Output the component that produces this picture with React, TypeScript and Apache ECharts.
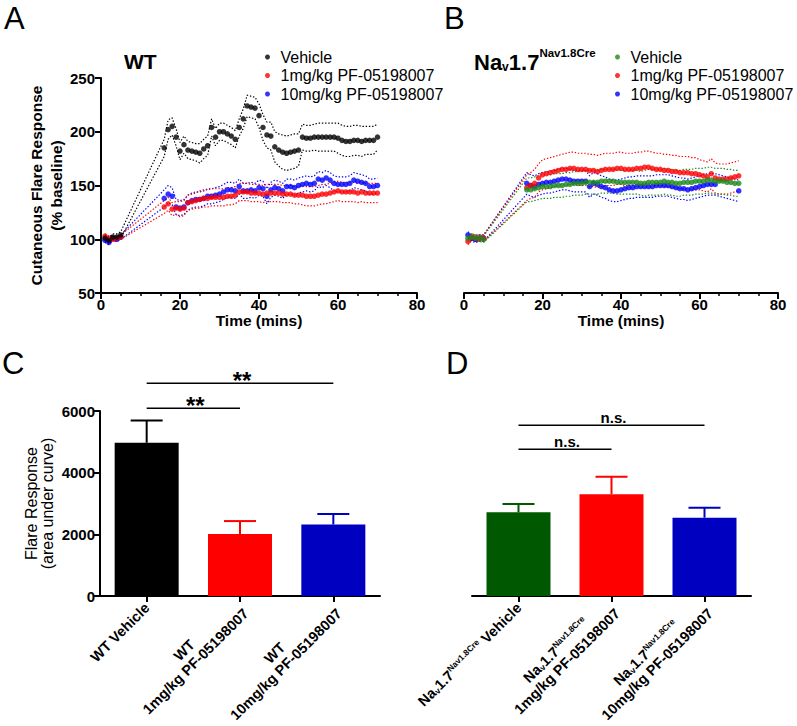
import React, { useEffect, useRef } from 'react';
import * as echarts from 'echarts';

const FONT = "'Liberation Sans', Arial, Helvetica, sans-serif";

// Time points (minutes)
const TIME = [1, 2, 3, 4, 5, 16, 17, 18, 19, 20, 21, 22, 23, 24, 25, 26, 27, 28, 29, 30, 31, 32, 33, 34, 35, 36, 37, 38, 39, 40, 41, 42, 43, 44, 45, 46, 47, 48, 49, 50, 51, 52, 53, 54, 55, 56, 57, 58, 59, 60, 61, 62, 63, 64, 65, 66, 67, 68, 69, 70];

const LEGEND_LABELS = ['Vehicle', '1mg/kg PF-05198007', '10mg/kg PF-05198007'];

// Panel A (WT)
const A_VEH = [101, 99, 102, 102, 104,
  185, 202, 205, 195, 182, 188, 183, 182, 181, 180,
  184, 187, 204, 195, 200, 200, 198, 196, 193, 204,
  212, 224, 223, 222, 215, 204, 197, 196, 186, 183,
  181, 180, 181, 182, 183, 195, 194, 194, 195, 195,
  195, 195, 195, 195, 194, 192, 191, 191, 192, 192,
  191, 192, 192, 192, 195];
const A_VEH_SEM = [3, 3, 3, 3, 3,
  8, 9, 8, 8, 8, 8, 8, 8, 8, 9,
  9, 9, 8, 8, 8, 8, 8, 8, 8, 8,
  9, 10, 10, 10, 11, 12, 12, 13, 14, 15,
  16, 16, 16, 16, 15, 12, 12, 12, 12, 13,
  13, 13, 13, 13, 14, 14, 14, 14, 14, 14,
  14, 13, 13, 13, 12];
const A_1MG = [103, 101, 100, 101, 102,
  130, 133, 128, 129, 128, 129, 134, 135, 136, 137,
  138, 138, 139, 139, 139, 139, 140, 140, 141, 144,
  144, 144, 143, 143, 143, 142, 143, 143, 143, 143,
  142, 142, 142, 141, 141, 141, 140, 140, 140, 141,
  142, 142, 143, 144, 145, 144, 144, 144, 144, 143,
  144, 143, 143, 143, 143];
const A_1MG_SEM = [2, 2, 2, 2, 2,
  6, 6, 6, 6, 7, 7, 7, 7, 7, 8,
  8, 8, 8, 8, 8, 8, 8, 8, 8, 8,
  8, 8, 8, 8, 8, 8, 8, 8, 8, 8,
  8, 8, 8, 8, 8, 9, 9, 9, 9, 9,
  9, 9, 9, 9, 9, 9, 9, 9, 9, 9,
  9, 9, 9, 9, 9];
const A_10MG = [99, 97, 101, 100, 102,
  138, 142, 140, 130, 129, 130, 134, 136, 137, 137,
  138, 140, 140, 141, 142, 144, 146, 146, 145, 149,
  145, 145, 146, 145, 148, 147, 140, 146, 148, 147,
  145, 149, 149, 148, 150, 151, 152, 151, 152, 156,
  155, 157, 155, 152, 151, 151, 151, 152, 155, 154,
  153, 152, 149, 149, 150];
const A_10MG_SEM = [2, 2, 2, 2, 2,
  8, 8, 8, 7, 7, 7, 7, 7, 7, 7,
  7, 7, 7, 7, 7, 7, 7, 7, 7, 7,
  7, 7, 7, 7, 7, 7, 7, 7, 7, 7,
  7, 7, 7, 7, 7, 7, 7, 7, 7, 7,
  7, 7, 7, 7, 7, 7, 7, 7, 7, 7,
  7, 7, 7, 7, 7];

// Panel B (Nav1.7 Nav1.8Cre)
const B_VEH = [101, 102, 101, 101, 100,
  146, 146, 147, 148, 149, 149, 149, 150, 150, 150,
  151, 151, 152, 152, 152, 153, 153, 153, 153, 154,
  154, 154, 154, 153, 153, 153, 153, 153, 153, 152,
  152, 153, 153, 153, 153, 154, 153, 153, 152, 152,
  153, 153, 153, 154, 154, 154, 155, 155, 154, 154,
  154, 153, 153, 152, 152];
const B_VEH_SEM = [3, 3, 3, 3, 3,
  11, 11, 11, 11, 11, 11, 11, 11, 11, 11,
  11, 11, 11, 11, 11, 11, 11, 11, 11, 11,
  11, 11, 11, 11, 11, 11, 11, 11, 11, 11,
  12, 12, 12, 12, 12, 12, 12, 12, 12, 12,
  12, 12, 12, 12, 12, 12, 12, 12, 12, 12,
  12, 12, 12, 12, 12];
const B_1MG = [98, 102, 101, 101, 101,
  148, 150, 152, 157, 160, 161, 162, 163, 164, 165,
  165, 166, 166, 165, 165, 165, 164, 164, 163, 164,
  165, 165, 165, 166, 166, 165, 165, 165, 166, 166,
  167, 167, 166, 165, 165, 164, 164, 163, 163, 162,
  162, 162, 161, 161, 160, 159, 158, 161, 157, 156,
  156, 156, 157, 158, 159];
const B_1MG_SEM = [3, 3, 3, 3, 3,
  12, 12, 13, 13, 14, 14, 14, 14, 14, 14,
  15, 15, 15, 15, 15, 15, 15, 15, 15, 15,
  15, 15, 15, 15, 15, 15, 15, 15, 15, 15,
  15, 15, 15, 15, 15, 15, 15, 15, 15, 15,
  15, 15, 15, 15, 14, 14, 14, 14, 14, 14,
  14, 14, 14, 14, 14];
const B_10MG = [104, 101, 100, 101, 101,
  152, 150, 149, 151, 152, 153, 153, 154, 155, 156,
  156, 155, 154, 154, 154, 154, 149, 152, 151, 149,
  148, 146, 145, 145, 146, 147, 148, 148, 149, 149,
  149, 149, 149, 150, 150, 150, 150, 149, 148, 147,
  147, 146, 147, 148, 149, 150, 151, 151, 151, null,
  null, null, null, null, 145];
const B_10MG_SEM = [3, 3, 3, 3, 3,
  10, 10, 10, 10, 10, 10, 10, 10, 10, 10,
  10, 10, 10, 10, 10, 10, 10, 10, 10, 10,
  10, 10, 10, 10, 10, 10, 10, 10, 10, 10,
  10, 10, 10, 10, 10, 10, 10, 10, 10, 10,
  10, 10, 10, 10, 10, 10, 10, 10, 10, 10,
  10, 10, 10, 10, 10];

// Panel C (WT AUC)
const C_CATS = ['WT Vehicle', 'WT\n1mg/kg PF-05198007', 'WT\n10mg/kg PF-05198007'];
const C_MEAN = [4970, 2010, 2320];
const C_SEM = [720, 420, 340];
const C_SIG = [[0, 1, 6090], [0, 2, 6900]];
const C_SIG_TEXT = ['**', '**'];

// Panel D (Nav1.7 Nav1.8Cre AUC)
const D_DOSE = ['Vehicle', '1mg/kg PF-05198007', '10mg/kg PF-05198007'];
const D_CATS = D_DOSE.map((d, i) => 'Nav1.7Nav1.8Cre' + (i === 0 ? ' ' : '\n') + d);
const D_MEAN = [2715, 3300, 2540];
const D_SEM = [270, 570, 325];
const D_SIG = [[0, 1, 4760], [0, 2, 5540]];
const D_SIG_TEXT = ['n.s.', 'n.s.'];

const A_COLORS = ['#000000', '#ff0000', '#0000ff'];
const B_COLORS = ['#1a8a1a', '#ff0000', '#0000ff'];
const C_COLORS = ['#000000', '#ff0000', '#0000c0'];
const D_COLORS = ['#005800', '#ff0000', '#0000c0'];

const txt = { color: '#000', fontFamily: FONT };

function band(name: string, mean: (number | null)[], sem: number[], sign: number, color: string, ax: number) {
  return {
    type: 'line', name, xAxisIndex: ax, yAxisIndex: ax, symbol: 'none', silent: true,
    connectNulls: true, z: 1,
    lineStyle: { color, width: 1.2, type: [1.4, 1.8] },
    data: TIME.map((t, i) => [t, mean[i] == null ? null : (mean[i] as number) + sign * sem[i]]),
  };
}

function dots(name: string, mean: (number | null)[], color: string, ax: number) {
  return {
    type: 'scatter', name, xAxisIndex: ax, yAxisIndex: ax, symbol: 'circle', symbolSize: 5.5, z: 3,
    itemStyle: { color },
    data: TIME.map((t, i) => [t, mean[i]]).filter((d) => d[1] != null),
  };
}

function group(prefix: string, means: any[], sems: number[][], colors: string[], ax: number) {
  const out: any[] = [];
  const order = [2, 1, 0];
  order.forEach((k) => {
    const name = prefix + LEGEND_LABELS[k];
    out.push(band(name + ' upper', means[k], sems[k], 1, colors[k], ax));
    out.push(band(name + ' lower', means[k], sems[k], -1, colors[k], ax));
  });
  order.forEach((k) => out.push(dots(prefix + LEGEND_LABELS[k], means[k], colors[k], ax)));
  return out;
}

function errRender(colors: string[]) {
  return (params: any, api: any) => {
    const i = api.value(0);
    const m = api.value(1);
    const s = api.value(2);
    const p0 = api.coord([i, m]);
    const p1 = api.coord([i, m + s]);
    const c = colors[params.dataIndex];
    return {
      type: 'group', children: [
        { type: 'line', shape: { x1: p0[0], y1: p0[1], x2: p1[0], y2: p1[1] }, style: { stroke: c, lineWidth: 2 } },
        { type: 'line', shape: { x1: p1[0] - 16, y1: p1[1], x2: p1[0] + 16, y2: p1[1] }, style: { stroke: c, lineWidth: 2 } },
      ],
    };
  };
}

function sigRender(texts: string[], fontSize: number, dy: number) {
  return (params: any, api: any) => {
    const a = api.coord([api.value(0), api.value(2)]);
    const b = api.coord([api.value(1), api.value(2)]);
    return {
      type: 'group', children: [
        { type: 'line', shape: { x1: a[0], y1: a[1], x2: b[0], y2: b[1] }, style: { stroke: '#000', lineWidth: 1.5 } },
        {
          type: 'text', x: (a[0] + b[0]) / 2 + 2, y: a[1] + dy,
          style: { text: texts[params.dataIndex], fill: '#000', fontSize, fontWeight: 'bold', fontFamily: FONT, align: 'center', verticalAlign: 'middle' },
        },
      ],
    };
  };
}

const NA_RICH = '{c|Na}{sub|v}{c|1.7}{sup|Nav1.8Cre}';
const labelRich = {
  c: { fontSize: 14.5, fontWeight: 'bold', fontFamily: FONT, color: '#000', align: 'center', lineHeight: 16, verticalAlign: 'bottom' },
  sub: { fontSize: 8.5, fontWeight: 'bold', fontFamily: FONT, color: '#000', align: 'center', lineHeight: 9, verticalAlign: 'bottom' },
  sup: { fontSize: 8.5, fontWeight: 'bold', fontFamily: FONT, color: '#000', align: 'center', lineHeight: 9, verticalAlign: 'top' },
};

function timeAxis(grid: number) {
  return {
    gridIndex: grid, type: 'value', min: 0, max: 80, interval: 20,
    axisLine: { show: true, onZero: false, lineStyle: { color: '#000', width: 2 } },
    axisTick: { show: true, length: 6, lineStyle: { color: '#000', width: 2 } },
    minorTick: { show: true, splitNumber: 4, length: 3, lineStyle: { color: '#000', width: 1.5 } },
    splitLine: { show: false },
    axisLabel: { ...txt, fontSize: 15, fontWeight: 'bold', margin: 4 },
    name: 'Time (mins)', nameLocation: 'middle', nameGap: 15,
    nameTextStyle: { ...txt, fontSize: 15.5, fontWeight: 'bold' },
  };
}

function catAxis(grid: number, data: string[], formatter: any) {
  return {
    gridIndex: grid, type: 'category', data,
    axisLine: { show: true, lineStyle: { color: '#000', width: 2 } },
    axisTick: { show: true, alignWithLabel: true, length: 6, lineStyle: { color: '#000', width: 2 } },
    axisLabel: { interval: 0, rotate: 45, margin: 9, formatter, rich: labelRich },
    splitLine: { show: false },
  };
}

const letterStyle = { ...txt, fontSize: 31, fontWeight: 'normal', lineHeight: 34 };

export default function App() {
  const ref = useRef<HTMLDivElement>(null);
  useEffect(() => {
    document.body.style.margin = '0';
    const chart = echarts.init(ref.current as HTMLDivElement, null, { renderer: 'svg' });
    const gridBase = { outerBoundsMode: 'none', containLabel: false };
    const option: any = {
      animation: false,
      backgroundColor: '#fff',
      title: [
        { text: 'A', left: 4, top: 1, padding: 0, textStyle: letterStyle },
        { text: 'B', left: 444, top: 1, padding: 0, textStyle: letterStyle },
        { text: 'C', left: 2, top: 346, padding: 0, textStyle: letterStyle },
        { text: 'D', left: 446, top: 346, padding: 0, textStyle: letterStyle },
        { text: 'WT', left: 124, top: 49, padding: 0, textStyle: { ...txt, fontSize: 21, fontWeight: 'bold', lineHeight: 24 } },
        {
          text: '{b|Na}{s|v}{b|1.7}{p|Nav1.8Cre}', left: 474, top: 47, padding: 0,
          textStyle: {
            rich: {
              b: { ...txt, fontSize: 22, fontWeight: 'bold', lineHeight: 26, verticalAlign: 'bottom' },
              s: { ...txt, fontSize: 12, fontWeight: 'bold', lineHeight: 12, verticalAlign: 'bottom' },
              p: { ...txt, fontSize: 11.5, fontWeight: 'bold', lineHeight: 12, verticalAlign: 'top' },
            },
          },
        },
      ],
      legend: [
        {
          orient: 'vertical', left: 265, top: 49, padding: 0, itemWidth: 16, itemHeight: 5, itemGap: 2.5, icon: 'circle',
          selectedMode: false, data: LEGEND_LABELS.map((l) => 'A ' + l), formatter: (n: string) => n.slice(2),
          textStyle: { ...txt, fontSize: 16 },
        },
        {
          orient: 'vertical', left: 615, top: 49, padding: 0, itemWidth: 16, itemHeight: 5, itemGap: 2.5, icon: 'circle',
          selectedMode: false, data: LEGEND_LABELS.map((l) => 'B ' + l), formatter: (n: string) => n.slice(2),
          textStyle: { ...txt, fontSize: 16 },
        },
      ],
      grid: [
        { ...gridBase, left: 101, top: 78, width: 316, height: 215 },
        { ...gridBase, left: 464, top: 78, width: 314, height: 215 },
        { ...gridBase, left: 100, top: 411, width: 280, height: 185 },
        { ...gridBase, left: 472, top: 411, width: 279, height: 185 },
      ],
      xAxis: [
        timeAxis(0),
        timeAxis(1),
        catAxis(2, C_CATS, (v: string) => v.split('\n').map((l) => `{c|${l}}`).join('\n')),
        catAxis(3, D_CATS, (v: string, i: number) => NA_RICH + (i === 0 ? `{c| ${D_DOSE[0]}}` : `\n{c|${D_DOSE[i]}}`)),
      ],
      yAxis: [
        {
          gridIndex: 0, type: 'value', min: 50, max: 250, interval: 50,
          axisLine: { show: true, lineStyle: { color: '#000', width: 2 } },
          axisTick: { show: true, length: 6, lineStyle: { color: '#000', width: 2 } },
          splitLine: { show: false },
          axisLabel: { ...txt, fontSize: 15, fontWeight: 'bold', margin: 6 },
          name: 'Cutaneous Flare Response\n(% baseline)', nameLocation: 'middle', nameGap: 31,
          nameTextStyle: { ...txt, fontSize: 15.5, fontWeight: 'bold', lineHeight: 20 },
        },
        { gridIndex: 1, type: 'value', min: 50, max: 250, show: false },
        {
          gridIndex: 2, type: 'value', min: 0, max: 6000, interval: 2000,
          axisLine: { show: true, lineStyle: { color: '#000', width: 2 } },
          axisTick: { show: true, length: 6, lineStyle: { color: '#000', width: 2 } },
          splitLine: { show: false },
          axisLabel: { ...txt, fontSize: 15, fontWeight: 'bold', margin: 5, formatter: (v: number) => String(v) },
          name: 'Flare Response\n(area under curve)', nameLocation: 'middle', nameGap: 45,
          nameTextStyle: { ...txt, fontSize: 16, fontWeight: 'normal', lineHeight: 16 },
        },
        { gridIndex: 3, type: 'value', min: 0, max: 6000, show: false },
      ],
      series: [
        ...group('A ', [A_VEH, A_1MG, A_10MG], [A_VEH_SEM, A_1MG_SEM, A_10MG_SEM], A_COLORS, 0),
        ...group('B ', [B_VEH, B_1MG, B_10MG], [B_VEH_SEM, B_1MG_SEM, B_10MG_SEM], B_COLORS, 1),
        {
          type: 'bar', name: 'WT AUC', xAxisIndex: 2, yAxisIndex: 2, barWidth: 64, z: 2,
          data: C_MEAN.map((v, i) => ({ value: v, itemStyle: { color: C_COLORS[i] } })),
        },
        {
          type: 'custom', name: 'WT SEM', xAxisIndex: 2, yAxisIndex: 2, z: 3, clip: false,
          data: C_MEAN.map((m, i) => [i, m, C_SEM[i]]), encode: { x: 0, y: 1 }, renderItem: errRender(C_COLORS),
        },
        {
          type: 'custom', name: 'WT sig', xAxisIndex: 2, yAxisIndex: 2, z: 3, clip: false,
          data: C_SIG, encode: { x: [0, 1], y: 2 }, renderItem: sigRender(C_SIG_TEXT, 24, -3),
        },
        {
          type: 'bar', name: 'KO AUC', xAxisIndex: 3, yAxisIndex: 3, barWidth: 64, z: 2,
          data: D_MEAN.map((v, i) => ({ value: v, itemStyle: { color: D_COLORS[i] } })),
        },
        {
          type: 'custom', name: 'KO SEM', xAxisIndex: 3, yAxisIndex: 3, z: 3, clip: false,
          data: D_MEAN.map((m, i) => [i, m, D_SEM[i]]), encode: { x: 0, y: 1 }, renderItem: errRender(D_COLORS),
        },
        {
          type: 'custom', name: 'KO sig', xAxisIndex: 3, yAxisIndex: 3, z: 3, clip: false,
          data: D_SIG, encode: { x: [0, 1], y: 2 }, renderItem: sigRender(D_SIG_TEXT, 15, -8),
        },
      ],
    };
    chart.setOption(option);
    return () => chart.dispose();
  }, []);
  return <div ref={ref} style={{ width: 797, height: 726 }} />;
}
